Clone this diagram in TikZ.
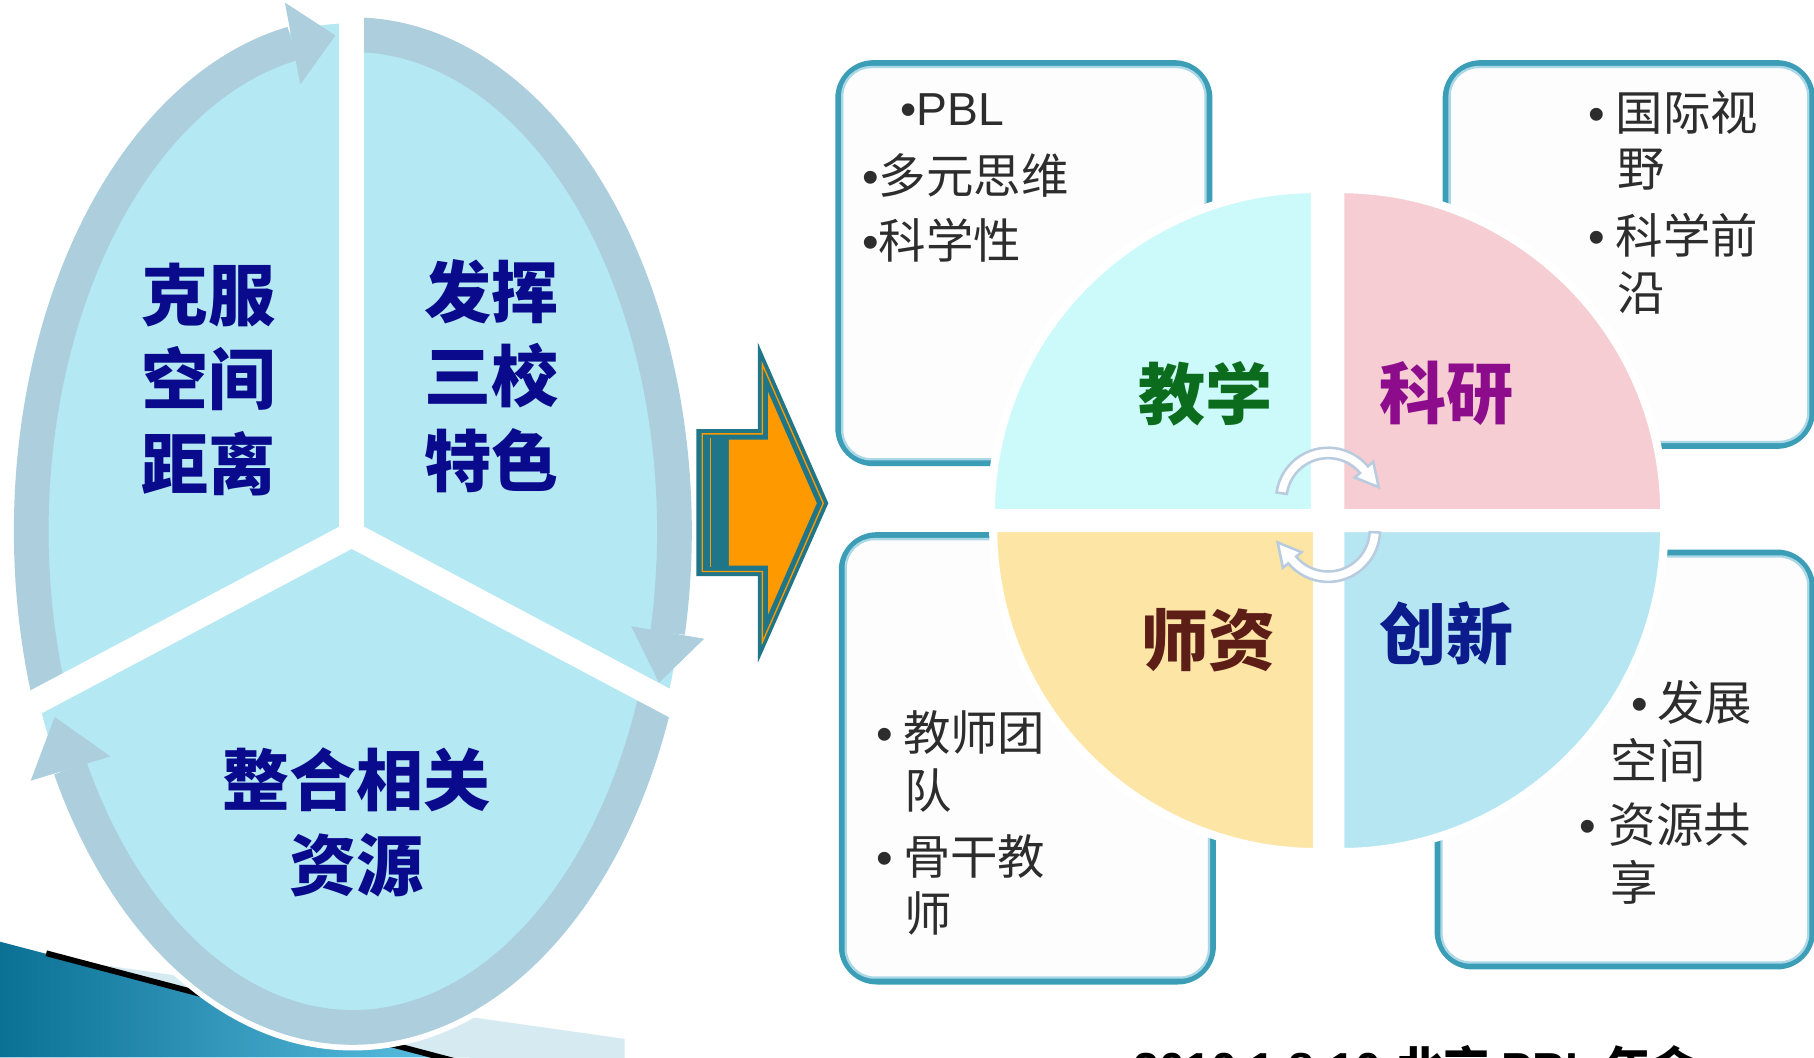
\documentclass[tikz,border=0pt]{standalone}
\usepackage{fontspec}
\setmainfont{Liberation Sans}
\newfontfamily\cjk{Noto Sans CJK SC}
\usetikzlibrary{calc}
\definecolor{cyanfill}{RGB}{180,232,243}
\definecolor{bandc}{RGB}{172,206,221}
\definecolor{navytxt}{RGB}{10,10,140}
\definecolor{arrteal}{RGB}{31,118,137}
\definecolor{arrorange}{RGB}{255,153,0}
\definecolor{boxteal}{RGB}{60,157,183}
\definecolor{boxlight}{RGB}{170,216,230}
\definecolor{boxfill}{RGB}{253,253,253}
\definecolor{qTL}{RGB}{204,250,250}
\definecolor{qTR}{RGB}{245,205,210}
\definecolor{qBL}{RGB}{253,229,166}
\definecolor{qBR}{RGB}{183,230,243}
\definecolor{cycline}{RGB}{185,203,222}
\definecolor{boxtxtc}{RGB}{45,45,45}
\definecolor{greenlab}{RGB}{12,108,30}
\definecolor{purplelab}{RGB}{140,12,140}
\definecolor{brownlab}{RGB}{92,30,22}
\definecolor{navylab}{RGB}{12,28,140}
\definecolor{blueA}{RGB}{10,112,148}
\definecolor{blueB}{RGB}{90,190,224}
\definecolor{lightstrip}{RGB}{214,234,242}
\newcommand\ehead[3]{%
  \path ($(E)+(#1:278 and 429)$) coordinate (T)
        ($(E)+(#2:278 and 429)$) coordinate (B);
  \fill[bandc] (T) -- ($(B)!#3!90:(T)$) -- ($(B)!#3!-90:(T)$) -- cycle;}
\newcommand\cycarrow[4]{%
  \filldraw[cyc] ($(#1)+(#2:45)$) arc[start angle=#2, end angle=#3, radius=45]
     -- ($(#1)+(#3:51)$) -- ($(#1)+(#4:45)$) -- ($(#1)+(#3:30)$) -- ($(#1)+(#3:36)$)
     arc[start angle=#3, end angle=#2, radius=36] -- cycle;}
\tikzset{
  band/.style={draw=bandc, line width=30},
  gapline/.style={draw=white, line width=22},
  bigtxt/.style={font=\cjk\bfseries\fontsize{58}{73}\selectfont, text=navytxt, align=center, inner sep=0},
  infobox/.style={draw=boxteal, line width=6, rounded corners=30, fill=boxfill},
  infoinner/.style={draw=boxlight, line width=2, rounded corners=25},
  quad/.style={draw=white, line width=7},
  qlabel/.style={font=\cjk\bfseries\fontsize{58}{70}\selectfont, inner sep=0},
  boxtxt/.style={font=\cjk\fontsize{41}{50}\selectfont, text=boxtxtc, anchor=west, inner sep=0},
  cyc/.style={draw=cycline, line width=2.2, fill=white},
}
\begin{document}
\begin{tikzpicture}[x=1pt,y=1pt]
\useasboundingbox (0,0) rectangle (1568,914);
\clip (0,0) rectangle (1568,914);
\fill[white] (0,0) rectangle (1568,914);
% bottom-left decoration
\shade[left color=blueA, right color=blueB] (0,100) -- (382,0) -- (0,0) -- cycle;
\fill[lightstrip] (73,82) -- (540,16) -- (540,-2) -- (382,0) -- cycle;
\draw[black, line width=5] (40,90) -- (400,-5);
% left ellipse
\coordinate (E) at (305,455);
\fill[cyanfill, draw=white, line width=10] (E) ellipse [x radius=293, y radius=444];
\draw[band] ($(E)+(200:278 and 429)$) arc[start angle=200, end angle=100.8, x radius=278, y radius=429];
\draw[band] ($(E)+(90:278 and 429)$) arc[start angle=90, end angle=-11.8, x radius=278, y radius=429];
\draw[band] ($(E)+(-19.5:278 and 429)$) arc[start angle=-19.5, end angle=-151.4, x radius=278, y radius=429];
\coordinate (J) at (304,452);
\draw[gapline] (304,930) -- (J);
\draw[gapline] (J) -- ++(-330,-175);
\draw[gapline] (J) -- ++(330,-175);
\fill[white] (J) circle (11);
\ehead{93.1}{100.8}{36pt}
\ehead{-17.8}{-11.8}{32pt}
\ehead{-158}{-151.4}{36pt}
\node[bigtxt] (lt) at (180,586) {克服\\空间\\距离};
\node[bigtxt] (rt) at (425,589) {发挥\\三校\\特色};
\node[bigtxt] (bt) at (308,203) {整合相关\\资源};
% orange arrow
\fill[arrteal] (602,543) -- (655,543) -- (655,618) -- (716,479) -- (655,341) -- (655,416) -- (602,416) -- cycle;
\draw[arrorange, line width=1.2] (607,539) -- (659,539) -- (659,599) -- (711.6,479) -- (659,359) -- (659,420) -- (607,420) -- cycle;
\draw[arrorange, line width=1.2] (614,424) -- (614,535);
\fill[arrteal] (620,534) rectangle (630,425);
\fill[arrorange] (630,534) -- (664,534) -- (664,575) -- (706,479) -- (664,383) -- (664,425) -- (630,425) -- cycle;
% boxes
\node[infobox, minimum width=320pt, minimum height=345pt] (boxTL) at (885,686.5) {};
\node[infobox, minimum width=316pt, minimum height=330pt] (boxTR) at (1408,694) {};
\node[infobox, minimum width=320pt, minimum height=385pt] (boxBL) at (888,258.5) {};
\node[infobox, minimum width=323pt, minimum height=357pt] (boxBR) at (1404.5,257.5) {};
\foreach \b in {boxTL,boxTR,boxBL,boxBR}
  \draw[infoinner] ($(\b.south west)+(6,6)$) rectangle ($(\b.north east)-(6,6)$);
% box texts
\node[boxtxt, font=\fontsize{40}{48}\selectfont] (tl0) at (778,819) {•PBL};
\node[boxtxt] (tl1) at (745,762) {{\normalfont •}多元思维};
\node[boxtxt] (tl2) at (745,706) {{\normalfont •}科学性};
\node[boxtxt] (tr1) at (1373,817) {{\normalfont •}\hspace{9pt}国际视};
\node[boxtxt] (tr2) at (1398,767) {野};
\node[boxtxt] (tr3) at (1373,711) {{\normalfont •}\hspace{9pt}科学前};
\node[boxtxt] (tr4) at (1398,661) {沿};
\node[boxtxt] (bl1) at (757,281) {{\normalfont •}\hspace{9pt}教师团};
\node[boxtxt] (bl2) at (782,231) {队};
\node[boxtxt] (bl3) at (757,174) {{\normalfont •}\hspace{9pt}骨干教};
\node[boxtxt] (bl4) at (782,124) {师};
\node[boxtxt] (br1) at (1410,307) {{\normalfont •}\hspace{8pt}发展};
\node[boxtxt] (br2) at (1392,257) {空间};
\node[boxtxt] (br3) at (1365,201) {{\normalfont •}\hspace{11pt}资源共};
\node[boxtxt] (br4) at (1392,151) {享};
% quadrants
\filldraw[quad, fill=qTL] (1136.5,470.5) -- ++(180:280) arc[start angle=180, end angle=90, radius=280] -- cycle;
\filldraw[quad, fill=qTR] (1158.5,470.5) -- ++(0:280) arc[start angle=0, end angle=90, radius=280] -- cycle;
\filldraw[quad, fill=qBL] (1138.5,457.5) -- ++(180:280) arc[start angle=180, end angle=270, radius=280] -- cycle;
\filldraw[quad, fill=qBR] (1158.5,457.5) -- ++(0:280) arc[start angle=0, end angle=-90, radius=280] -- cycle;
\node[qlabel, text=greenlab] (q1) at (1042,574) {教学};
\node[qlabel, text=purplelab] (q2) at (1250,574) {科研};
\node[qlabel, text=brownlab] (q3) at (1045,361) {师资};
\node[qlabel, text=navylab] (q4) at (1250,366) {创新};
% circular arrows
\coordinate (C1) at (1148,482);
\coordinate (C2) at (1148,456);
\cycarrow{C1}{172}{40}{14}
\cycarrow{C2}{-3}{-140}{-166}
% footer (cut off at the bottom edge, as in the original)
\node[anchor=base west, inner sep=0, font=\bfseries\fontsize{40}{48}\selectfont] (foot) at (980,-24)
  {2010.1.8-10\hspace{14pt}{\cjk\bfseries 北京}\hspace{10pt}PBL\hspace{10pt}{\cjk\bfseries 年会}};
\end{tikzpicture}
\end{document}
